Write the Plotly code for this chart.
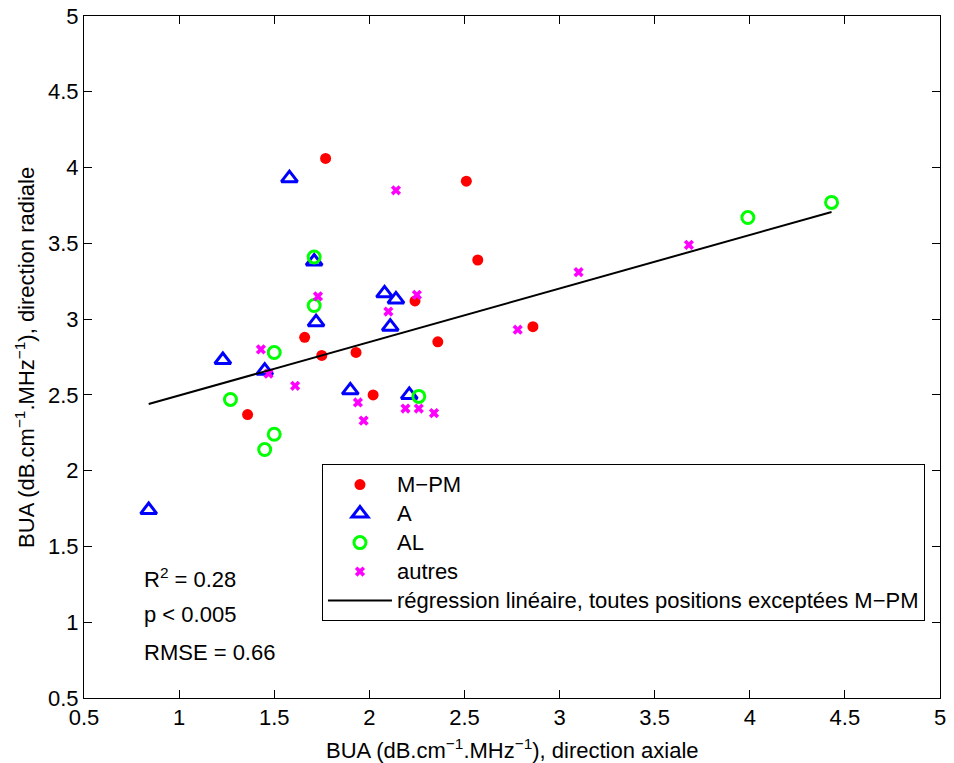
import plotly.graph_objects as go

# M-PM
mpm_x = [1.77, 2.51, 2.57, 2.24, 1.66, 1.75, 1.93, 2.36, 2.86, 2.02, 1.36]
mpm_y = [4.06, 3.91, 3.39, 3.12, 2.88, 2.76, 2.78, 2.85, 2.95, 2.50, 2.37]
# A
a_x = [1.58, 1.71, 2.08, 2.14, 1.72, 2.11, 1.23, 1.45, 1.90, 2.21, 0.84]
a_y = [3.93, 3.38, 3.17, 3.13, 2.98, 2.95, 2.73, 2.66, 2.53, 2.50, 1.74]
# AL
al_x = [1.71, 1.71, 1.50, 1.27, 1.50, 1.45, 2.26, 3.99, 4.43]
al_y = [3.41, 3.09, 2.78, 2.47, 2.24, 2.14, 2.49, 3.67, 3.77]
# autres
au_x = [2.14, 1.73, 2.25, 2.10, 1.43, 1.47, 1.61, 1.94, 1.97, 2.19, 2.26, 2.34, 2.78, 3.10, 3.68]
au_y = [3.85, 3.15, 3.16, 3.05, 2.80, 2.64, 2.56, 2.45, 2.33, 2.41, 2.41, 2.38, 2.93, 3.31, 3.49]

# regression line
reg_slope = 0.353
reg_intercept = 2.143
reg_x = [min(a_x + al_x + au_x), max(a_x + al_x + au_x)]
reg_y = [reg_intercept + reg_slope * v for v in reg_x]

series_names = ["M−PM", "A", "AL", "autres",
                "régression linéaire, toutes positions exceptées M−PM"]

stats_lines = ["R<sup>2</sup> = 0.28", "p < 0.005", "RMSE = 0.66"]
stats_y = [1.29, 1.05, 0.80]

ticks = [0.5, 1, 1.5, 2, 2.5, 3, 3.5, 4, 4.5, 5]
tick_text = ["0.5", "1", "1.5", "2", "2.5", "3", "3.5", "4", "4.5", "5"]

FONT = "Liberation Sans, Arial, Helvetica, sans-serif"
FS = 22


def leg(name):
    return '<span style="font-size:22px">' + name + '</span>'


fig = go.Figure()
fig.add_trace(go.Scatter(x=mpm_x, y=mpm_y, mode="markers", name=leg(series_names[0]),
                         marker=dict(symbol="circle", size=11, color="#FF0000")))
fig.add_trace(go.Scatter(x=a_x, y=a_y, mode="markers", name=leg(series_names[1]),
                         marker=dict(symbol="triangle-up-open", size=14, color="#0000FF",
                                     line=dict(width=3, color="#0000FF"))))
fig.add_trace(go.Scatter(x=al_x, y=al_y, mode="markers", name=leg(series_names[2]),
                         marker=dict(symbol="circle-open", size=12, color="#00FF00",
                                     line=dict(width=3, color="#00FF00"))))
fig.add_trace(go.Scatter(x=au_x, y=au_y, mode="markers", name=leg(series_names[3]),
                         marker=dict(symbol="x", size=9, color="#FF00FF", line=dict(width=0))))
fig.add_trace(go.Scatter(x=reg_x, y=reg_y, mode="lines", name=leg(series_names[4]),
                         line=dict(color="black", width=2)))

for t, yv in zip(stats_lines, stats_y):
    fig.add_annotation(x=0.805, y=yv, xref="x", yref="y", text=t, showarrow=False,
                       xanchor="left", yanchor="middle",
                       font=dict(size=FS, color="black", family=FONT))

# axis titles as annotations for exact placement
fig.add_annotation(x=0.5, y=-0.075, xref="paper", yref="paper",
                   text="BUA (dB.cm<sup>−1</sup>.MHz<sup>−1</sup>), direction axiale",
                   showarrow=False, xanchor="center", yanchor="middle",
                   font=dict(size=FS, color="black", family=FONT))
fig.add_annotation(x=-0.069, y=0.5, xref="paper", yref="paper",
                   text="BUA (dB.cm<sup>−1</sup>.MHz<sup>−1</sup>), direction radiale",
                   showarrow=False, xanchor="center", yanchor="middle", textangle=-90,
                   font=dict(size=FS, color="black", family=FONT))

axis_common = dict(range=[0.5, 5], tickvals=ticks, ticktext=tick_text,
                   showgrid=False, zeroline=False, showline=True, linecolor="black",
                   linewidth=1, mirror="allticks", ticks="inside", ticklen=8,
                   tickcolor="black", tickfont=dict(size=FS, color="black", family=FONT),
                   automargin=False, ticklabeloverflow="allow")

# the page body adds an 8px offset, so the figure is 8px smaller than the window
fig.update_layout(
    width=946, height=755,
    margin=dict(l=76, r=14, t=8, b=65),
    paper_bgcolor="white", plot_bgcolor="white",
    font=dict(family=FONT, size=FS, color="black"),
    xaxis=dict(**axis_common),
    yaxis=dict(**axis_common),
    legend=dict(x=0.278, y=0.343, xanchor="left", yanchor="top",
                bgcolor="white", bordercolor="black", borderwidth=1,
                font=dict(size=20, color="black", family=FONT), itemwidth=64,
                tracegroupgap=0),
    showlegend=True,
)

fig.write_html("out.html")
